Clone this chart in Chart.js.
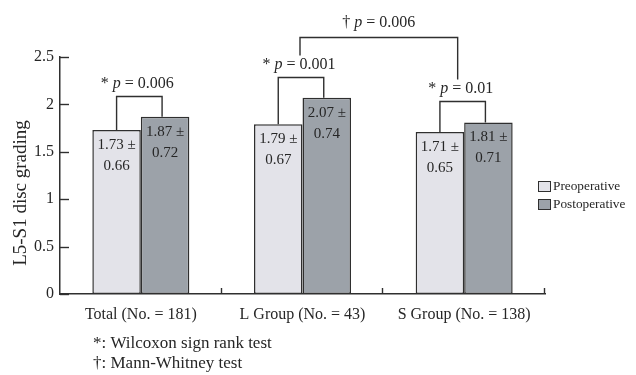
<!DOCTYPE html>
<html>
<head>
<meta charset="utf-8">
<script src="https://cdn.jsdelivr.net/npm/chart.js@4.4.1/dist/chart.umd.min.js"></script>
<style>
  html, body { margin: 0; padding: 0; background: #ffffff; }
  #wrap { position: relative; width: 636px; height: 375px; }
</style>
</head>
<body>
<div id="wrap"><canvas id="c" width="636" height="375"></canvas></div>
<script>
// ---- data ----
const categories = ['Total (No. = 181)', 'L Group (No. = 43)', 'S Group (No. = 138)'];
const seriesNames = ['Preoperative', 'Postoperative'];
const preMeans = [1.73, 1.79, 1.71];
const preSD = [0.66, 0.67, 0.65];
const postMeans = [1.87, 2.07, 1.81];
const postSD = [0.72, 0.74, 0.71];
const withinPValues = ['0.006', '0.001', '0.01'];      // * Wilcoxon, pre vs post per group
const betweenPair = [1, 2];                              // L Group vs S Group
const betweenPValue = '0.006';                           // † Mann-Whitney
const yTicks = [0, 0.5, 1, 1.5, 2, 2.5];
const yTitle = 'L5-S1 disc grading';
const footnotes = ['*: Wilcoxon sign rank test', '\u2020: Mann-Whitney test'];

// ---- style ----
const SERIF = '"Liberation Serif", "DejaVu Serif", serif';
const INK = '#262626';
const PRE_COLOR = '#e3e3e9';
const POST_COLOR = '#9ca2a9';
const EDGE = '#2f2f2f';

function drawMixed(ctx, parts, cx, baseline, size) {
  let total = 0;
  parts.forEach(p => {
    ctx.font = (p.i ? 'italic ' : '') + size + 'px ' + SERIF;
    p.w = ctx.measureText(p.t).width;
    total += p.w;
  });
  let x = cx - total / 2;
  ctx.textAlign = 'left';
  ctx.textBaseline = 'alphabetic';
  parts.forEach(p => {
    ctx.font = (p.i ? 'italic ' : '') + size + 'px ' + SERIF;
    ctx.fillText(p.t, x, baseline);
    x += p.w;
  });
}

const annotate = {
  id: 'annotate',
  afterDatasetsDraw(chart) {
    const ctx = chart.ctx;
    const ys = chart.scales.y;
    const area = chart.chartArea;
    const m0 = chart.getDatasetMeta(0), m1 = chart.getDatasetMeta(1);
    ctx.save();
    ctx.fillStyle = INK;
    ctx.strokeStyle = EDGE;
    ctx.lineWidth = 1.4;

    // inward y ticks
    yTicks.forEach(v => {
      const py = Math.round(ys.getPixelForValue(v)) + 0.5;
      ctx.beginPath(); ctx.moveTo(area.left, py); ctx.lineTo(area.left + 9, py); ctx.stroke();
    });
    // x category boundary ticks (upward)
    for (let i = 1; i <= categories.length; i++) {
      const px = Math.round(area.left + (area.right - area.left) * i / categories.length) - 0.5;
      ctx.beginPath(); ctx.moveTo(px, area.bottom); ctx.lineTo(px, area.bottom - 6); ctx.stroke();
    }

    // value labels inside bars
    ctx.textAlign = 'center';
    ctx.textBaseline = 'middle';
    ctx.font = '15px ' + SERIF;
    [[m0, preMeans, preSD], [m1, postMeans, postSD]].forEach(([meta, means, sds]) => {
      meta.data.forEach((bar, i) => {
        ctx.fillText(means[i].toFixed(2) + ' \u00b1', bar.x, bar.y + 15);
        ctx.fillText(sds[i].toFixed(2), bar.x, bar.y + 36);
      });
    });

    // within-group brackets
    const labelTops = [];
    const labelCenters = [];
    categories.forEach((c, i) => {
      const a = m0.data[i], b = m1.data[i];
      const top = Math.round(Math.min(a.y, b.y) - 21) + 0.5;
      const xl = a.x, xr = b.x - 3;
      ctx.beginPath();
      ctx.moveTo(xl, a.y); ctx.lineTo(xl, top); ctx.lineTo(xr, top); ctx.lineTo(xr, b.y);
      ctx.stroke();
      const cx = (xl + xr) / 2 - 2;
      const base = top - 9;
      drawMixed(ctx, [{t: '* '}, {t: 'p', i: true}, {t: ' = ' + withinPValues[i]}], cx, base, 16);
      labelTops.push(base - 13);
      labelCenters.push(cx);
    });

    // between-group bracket
    const [g1, g2] = betweenPair;
    const bigTop = Math.round(Math.min(labelTops[g1], labelTops[g2]) - 19) + 0.5;
    const bl = labelCenters[g1] + 1, br = labelCenters[g2] - 3;
    ctx.beginPath();
    ctx.moveTo(bl, labelTops[g1]);
    ctx.lineTo(bl, bigTop);
    ctx.lineTo(br, bigTop);
    ctx.lineTo(br, labelTops[g2]);
    ctx.stroke();
    drawMixed(ctx, [{t: '\u2020 '}, {t: 'p', i: true}, {t: ' = ' + betweenPValue}],
      (bl + br) / 2, bigTop - 11, 16);

    // y title
    ctx.save();
    ctx.translate(21, 193);
    ctx.rotate(-Math.PI / 2);
    ctx.font = '19px ' + SERIF;
    ctx.textAlign = 'center';
    ctx.textBaseline = 'middle';
    ctx.fillText(yTitle, 0, 0);
    ctx.restore();

    // legend
    const colors = [PRE_COLOR, POST_COLOR];
    seriesNames.forEach((name, k) => {
      const by = 181 + k * 18;
      ctx.fillStyle = colors[k];
      ctx.fillRect(538.5, by + 0.5, 12, 10);
      ctx.lineWidth = 1;
      ctx.strokeStyle = EDGE;
      ctx.strokeRect(538.5, by + 0.5, 12, 10);
      ctx.fillStyle = INK;
      ctx.font = '13.3px ' + SERIF;
      ctx.textAlign = 'left';
      ctx.textBaseline = 'middle';
      ctx.fillText(name, 553, by + 6);
    });

    // footnotes
    ctx.font = '17px ' + SERIF;
    ctx.textAlign = 'left';
    ctx.textBaseline = 'alphabetic';
    footnotes.forEach((t, k) => ctx.fillText(t, 93, 348 + k * 20));
    ctx.restore();
  }
};

new Chart(document.getElementById('c'), {
  type: 'bar',
  data: {
    labels: categories,
    datasets: [
      { label: seriesNames[0], data: preMeans, backgroundColor: PRE_COLOR, borderColor: EDGE, borderWidth: 1.5, borderSkipped: false },
      { label: seriesNames[1], data: postMeans, backgroundColor: POST_COLOR, borderColor: EDGE, borderWidth: 1.5, borderSkipped: false }
    ]
  },
  options: {
    responsive: false,
    animation: false,
    devicePixelRatio: 1,
    layout: { padding: { top: 57, right: 91, left: 0, bottom: 0 } },
    plugins: { legend: { display: false }, tooltip: { enabled: false } },
    datasets: { bar: { categoryPercentage: 0.6, barPercentage: 1.0 } },
    scales: {
      x: {
        grid: { display: false, drawTicks: false },
        border: { display: true, color: EDGE, width: 1.5 },
        ticks: { color: INK, font: { family: SERIF, size: 16 }, padding: 11, maxRotation: 0 },
        afterFit(s) { s.height = 81; }
      },
      y: {
        min: 0, max: 2.5,
        grid: { display: false, drawTicks: false },
        border: { display: true, color: EDGE, width: 1.5 },
        afterBuildTicks(s) { s.ticks = yTicks.map(v => ({ value: v })); },
        ticks: { color: INK, font: { family: SERIF, size: 16 }, padding: 6, callback: v => String(v) },
        afterFit(s) { s.width = 60; }
      }
    }
  },
  plugins: [annotate]
});
</script>
</body>
</html>
